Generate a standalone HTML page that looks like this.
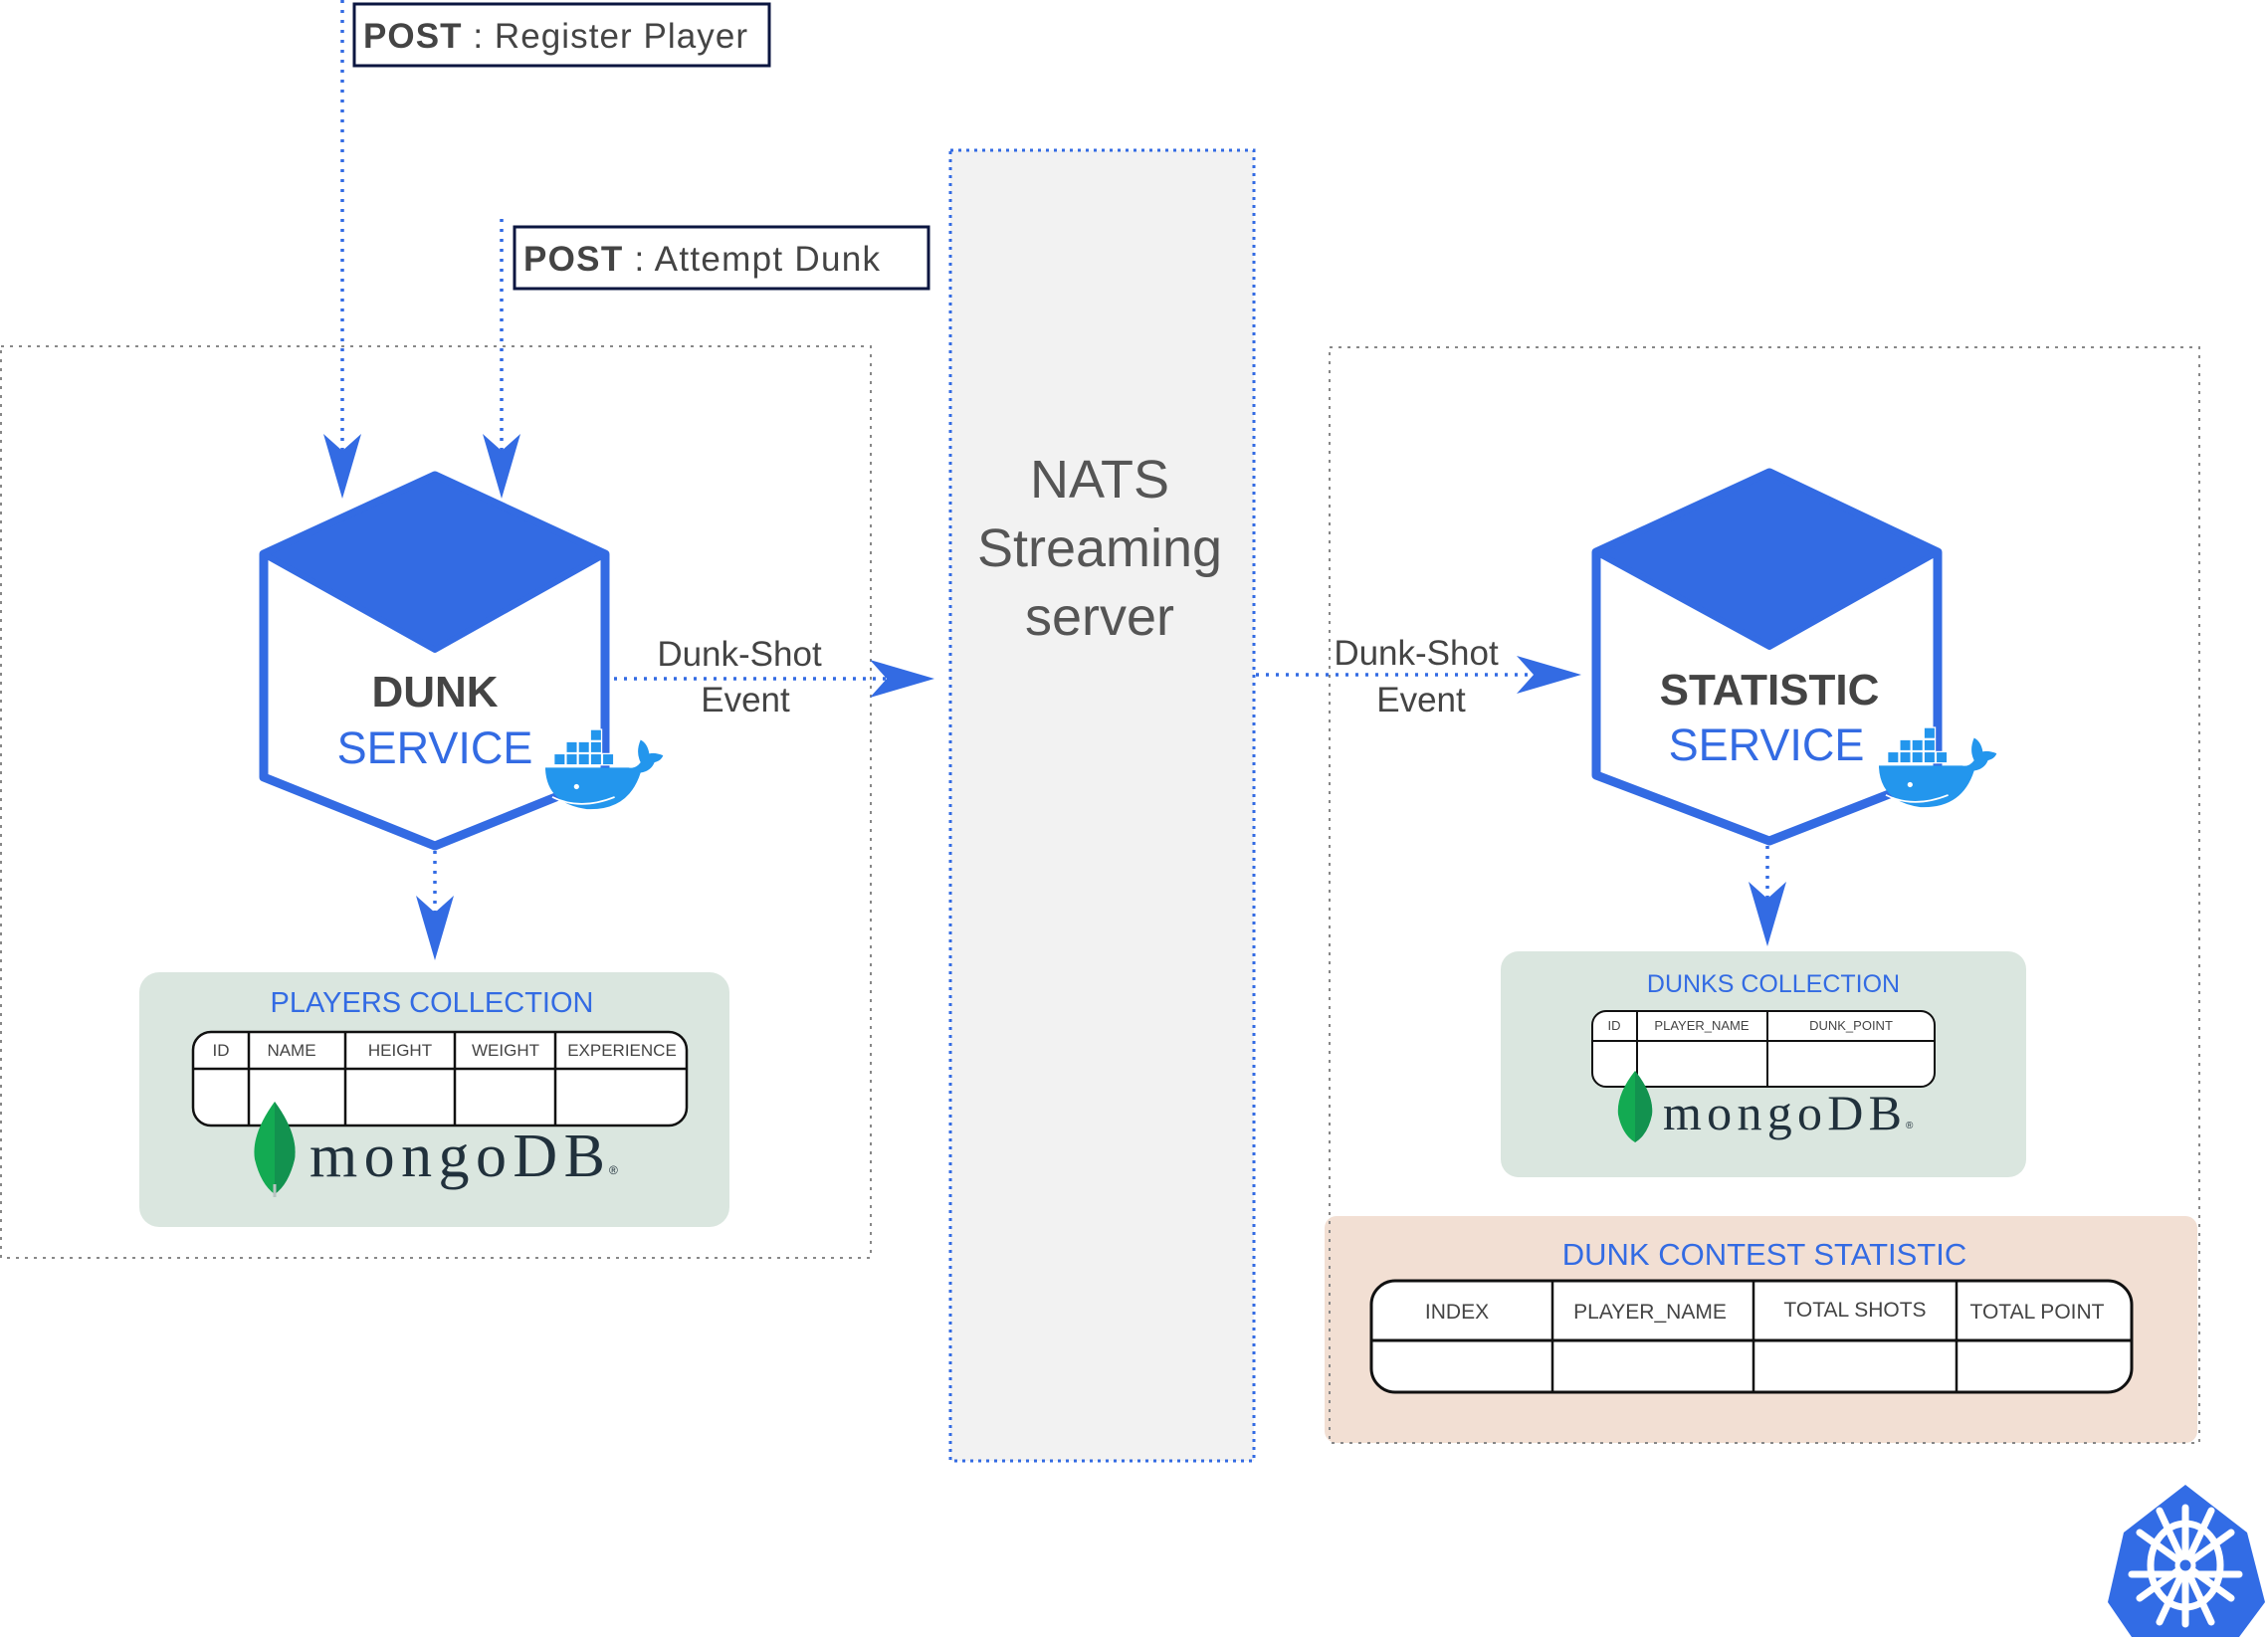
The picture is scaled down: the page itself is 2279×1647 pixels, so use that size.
<!DOCTYPE html>
<html><head><meta charset="utf-8"><style>
html,body{margin:0;padding:0;background:#fff;}
svg{display:block;}
text{font-family:"Liberation Sans",sans-serif;}
</style></head><body>
<svg width="2279" height="1647" viewBox="0 0 2279 1647" xmlns="http://www.w3.org/2000/svg">
<defs>
<g id="arrowD"><path d="M-19,-65 L0,-48 L19,-65 L0,0 Z" fill="#336BE3"/></g>
<g id="arrowR"><path d="M-65,-19 L-48,0 L-65,19 L0,0 Z" fill="#336BE3"/></g>
<g id="whale">
<path d="M0,38 Q2,78 48,84 Q96,86 110,42 Q122,40 126,30 Q134,28 136,22 Q126,18 120,20 Q118,8 110,4 Q104,18 110,30 Q104,38 96,36 L0,36 Z" fill="#2396ED"/>
<g fill="#2396ED" stroke="#fff" stroke-width="1.5">
<rect x="10" y="20" width="13" height="13"/><rect x="24" y="20" width="13" height="13"/><rect x="38" y="20" width="13" height="13"/><rect x="52" y="20" width="13" height="13"/><rect x="66" y="20" width="13" height="13"/>
<rect x="24" y="6" width="13" height="13"/><rect x="38" y="6" width="13" height="13"/><rect x="52" y="6" width="13" height="13"/>
<rect x="52" y="-8" width="13" height="13"/>
</g>
<circle cx="36" cy="58" r="3" fill="#fff"/>
<path d="M8,70 Q40,86 80,70" stroke="#fff" stroke-width="2" fill="none"/>
</g>
</defs>

<rect x="1" y="348" width="874" height="916" fill="none" stroke="#888" stroke-width="2" stroke-dasharray="3,6"/>
<rect x="1331" y="1222" width="877" height="228" rx="12" fill="#F2DFD3"/>
<rect x="1336" y="349" width="874" height="1101" fill="none" stroke="#888" stroke-width="2" stroke-dasharray="3,6"/>

<rect x="955" y="151" width="305" height="1317" fill="#F2F2F2" stroke="#336BE3" stroke-width="3" stroke-dasharray="3,5"/>
<text x="1105" y="500" font-size="54" fill="#555" text-anchor="middle">NATS</text>
<text x="1105" y="569" font-size="54" fill="#555" text-anchor="middle">Streaming</text>
<text x="1105" y="638" font-size="54" fill="#555" text-anchor="middle">server</text>

<line x1="344" y1="0" x2="344" y2="470" stroke="#336BE3" stroke-width="3.5" stroke-dasharray="3,7"/>
<use href="#arrowD" x="344" y="501"/>
<line x1="504" y1="220" x2="504" y2="470" stroke="#336BE3" stroke-width="3.5" stroke-dasharray="3,7"/>
<use href="#arrowD" x="504" y="501"/>
<rect x="356" y="4" width="417" height="62" fill="#fff" stroke="#0b1640" stroke-width="3"/>
<text x="365" y="48" font-size="35" fill="#444" textLength="386"><tspan font-weight="bold">POST</tspan> : Register Player</text>
<rect x="517" y="228" width="416" height="62" fill="#fff" stroke="#0b1640" stroke-width="3"/>
<text x="526" y="272" font-size="35" fill="#444" textLength="358"><tspan font-weight="bold">POST</tspan> : Attempt Dunk</text>

<path d="M437,478 L608,557 L608,781 L437,850 L265,781 L265,557 Z" fill="#fff" stroke="#336BE3" stroke-width="9" stroke-linejoin="round"/>
<path d="M437,478 L608,557 L437,653 L265,557 Z" fill="#336BE3" stroke="#336BE3" stroke-width="6" stroke-linejoin="round"/>
<text x="437" y="710" font-size="44" font-weight="bold" fill="#444" text-anchor="middle">DUNK</text>
<text x="437" y="767" font-size="45" fill="#336BE3" text-anchor="middle">SERVICE</text>
<use href="#whale" transform="translate(548,740) scale(0.87)"/>

<path d="M1778,475 L1947,555 L1947,779 L1778,845 L1604,779 L1604,555 Z" fill="#fff" stroke="#336BE3" stroke-width="9" stroke-linejoin="round"/>
<path d="M1778,475 L1947,555 L1778,650 L1604,555 Z" fill="#336BE3" stroke="#336BE3" stroke-width="6" stroke-linejoin="round"/>
<text x="1778" y="708" font-size="44" font-weight="bold" fill="#444" text-anchor="middle">STATISTIC</text>
<text x="1775" y="764" font-size="45" fill="#336BE3" text-anchor="middle">SERVICE</text>
<use href="#whale" transform="translate(1888,738) scale(0.87)"/>

<line x1="617" y1="682" x2="890" y2="682" stroke="#336BE3" stroke-width="3.5" stroke-dasharray="3,7"/>
<use href="#arrowR" x="939" y="682"/>
<text x="743" y="669" font-size="35" fill="#444" text-anchor="middle">Dunk-Shot</text>
<text x="749" y="715" font-size="35" fill="#444" text-anchor="middle">Event</text>
<line x1="1262" y1="678" x2="1545" y2="678" stroke="#336BE3" stroke-width="3.5" stroke-dasharray="3,7"/>
<use href="#arrowR" x="1589" y="678"/>
<text x="1423" y="668" font-size="35" fill="#444" text-anchor="middle">Dunk-Shot</text>
<text x="1428" y="715" font-size="35" fill="#444" text-anchor="middle">Event</text>

<line x1="437" y1="855" x2="437" y2="925" stroke="#336BE3" stroke-width="3.5" stroke-dasharray="3,7"/>
<use href="#arrowD" x="437" y="965"/>
<line x1="1776" y1="850" x2="1776" y2="910" stroke="#336BE3" stroke-width="3.5" stroke-dasharray="3,7"/>
<use href="#arrowD" x="1776" y="951"/>

<rect x="140" y="977" width="593" height="256" rx="20" fill="#DAE6DF"/>
<text x="434" y="1017" font-size="29" fill="#336BE3" text-anchor="middle">PLAYERS COLLECTION</text>
<rect x="194" y="1037" width="496" height="94" rx="18" fill="#fff" stroke="#111" stroke-width="2.5"/>
<line x1="194" y1="1074" x2="690" y2="1074" stroke="#111" stroke-width="2.5"/>
<g stroke="#111" stroke-width="2.5"><line x1="250" y1="1037" x2="250" y2="1131"/><line x1="347" y1="1037" x2="347" y2="1131"/><line x1="457" y1="1037" x2="457" y2="1131"/><line x1="558" y1="1037" x2="558" y2="1131"/></g>
<g font-size="17" fill="#444" text-anchor="middle"><text x="222" y="1061">ID</text><text x="293" y="1061">NAME</text><text x="402" y="1061">HEIGHT</text><text x="508" y="1061">WEIGHT</text><text x="625" y="1061">EXPERIENCE</text></g>
<path d="M276,1107 Q300,1140 296,1165 Q290,1190 276,1200 Q262,1190 256,1165 Q252,1140 276,1107 Z" fill="#13AA52"/>
<path d="M276,1107 Q300,1140 296,1165 Q290,1190 276,1200 Z" fill="#12924F"/>
<line x1="276" y1="1190" x2="276" y2="1203" stroke="#b8c4c2" stroke-width="3"/>
<text x="311" y="1182" font-size="62" fill="#21313C" style="font-family:'Liberation Serif',serif" textLength="297" lengthAdjust="spacing">mongoDB</text>
<text x="612" y="1180" font-size="12" fill="#21313C">®</text>

<rect x="1508" y="956" width="528" height="227" rx="18" fill="#DAE6DF"/>
<text x="1782" y="997" font-size="25" fill="#336BE3" text-anchor="middle">DUNKS COLLECTION</text>
<rect x="1600" y="1016" width="344" height="76" rx="14" fill="#fff" stroke="#111" stroke-width="2"/>
<line x1="1600" y1="1046" x2="1944" y2="1046" stroke="#111" stroke-width="2"/>
<g stroke="#111" stroke-width="2"><line x1="1645" y1="1016" x2="1645" y2="1092"/><line x1="1776" y1="1016" x2="1776" y2="1092"/></g>
<g font-size="13" fill="#444" text-anchor="middle"><text x="1622" y="1035">ID</text><text x="1710" y="1035">PLAYER_NAME</text><text x="1860" y="1035">DUNK_POINT</text></g>
<path d="M1643,1076 Q1662,1100 1660,1120 Q1656,1140 1643,1148 Q1630,1140 1626,1120 Q1624,1100 1643,1076 Z" fill="#13AA52"/>
<path d="M1643,1076 Q1662,1100 1660,1120 Q1656,1140 1643,1148 Z" fill="#12924F"/>
<text x="1671" y="1135" font-size="50" fill="#21313C" style="font-family:'Liberation Serif',serif" textLength="240" lengthAdjust="spacing">mongoDB</text>
<text x="1915" y="1134" font-size="10" fill="#21313C">®</text>

<text x="1773" y="1271" font-size="31" fill="#336BE3" text-anchor="middle">DUNK CONTEST STATISTIC</text>
<rect x="1378" y="1287" width="764" height="112" rx="24" fill="#fff" stroke="#111" stroke-width="3"/>
<line x1="1378" y1="1347" x2="2142" y2="1347" stroke="#111" stroke-width="3"/>
<g stroke="#111" stroke-width="2.5"><line x1="1560" y1="1287" x2="1560" y2="1399"/><line x1="1762" y1="1287" x2="1762" y2="1399"/><line x1="1966" y1="1287" x2="1966" y2="1399"/></g>
<g font-size="21" fill="#444" text-anchor="middle"><text x="1464" y="1325">INDEX</text><text x="1658" y="1325">PLAYER_NAME</text><text x="1864" y="1323">TOTAL SHOTS</text><text x="2047" y="1325">TOTAL POINT</text></g>

<path d="M2196,1492 L2258,1540 L2276,1610 L2250,1645 L2142,1645 L2118,1610 L2134,1540 Z" fill="#326CE5"/>
<g stroke="#fff" stroke-width="7" fill="none" stroke-linecap="round">
<ellipse cx="2196" cy="1573" rx="35" ry="42"/>
<line x1="2196" y1="1515" x2="2196" y2="1632"/>
<line x1="2150" y1="1540" x2="2242" y2="1606"/>
<line x1="2242" y1="1540" x2="2150" y2="1606"/>
<line x1="2142" y1="1582" x2="2250" y2="1582"/>
<line x1="2170" y1="1630" x2="2222" y2="1518"/>
<line x1="2222" y1="1630" x2="2170" y2="1518"/>
</g>
<circle cx="2196" cy="1573" r="8" fill="#326CE5" stroke="#fff" stroke-width="5"/>
</svg>
</body></html>
